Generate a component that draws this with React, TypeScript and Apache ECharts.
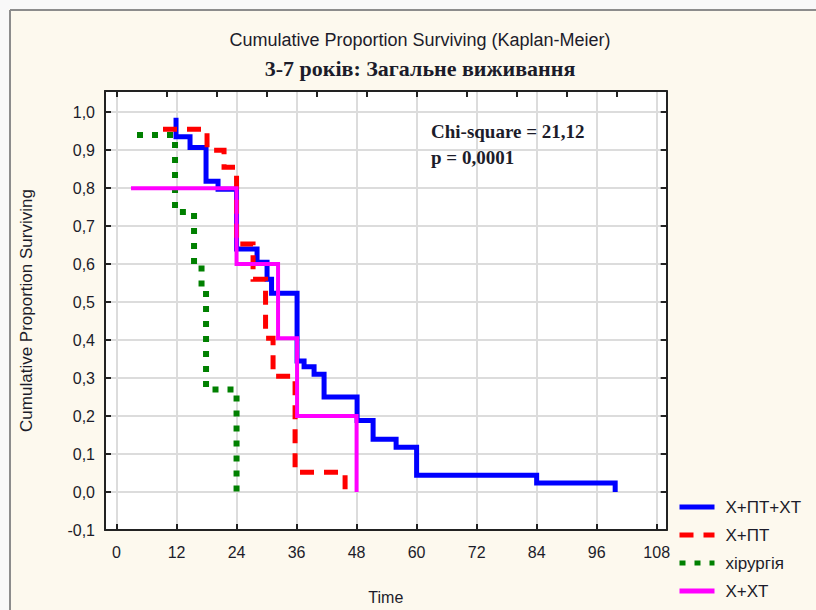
import React, { useEffect, useRef } from 'react';
import * as echarts from 'echarts';

// Axis ticks
const xTicks = [0, 12, 24, 36, 48, 60, 72, 84, 96, 108];
const xTopTicks = [0, 10, 20, 30, 40, 50, 60, 70, 80, 90, 100];
const yTicks = [-0.1, 0, 0.1, 0.2, 0.3, 0.4, 0.5, 0.6, 0.7, 0.8, 0.9, 1.0];

// Group names
const groupNames = ['Х+ПТ+ХТ', 'Х+ПТ', 'хірургія', 'Х+ХТ'];

// Kaplan-Meier steps (time in months, cumulative proportion surviving)
const blueTimes = [11.9, 11.9, 14.7, 17.9, 20.3, 24.0, 28.1, 30.1, 31.0, 36.1, 37.5, 39.5, 41.5, 48.1, 51.3, 55.9, 60.0, 84.0, 99.7];
const blueSurv = [0.985, 0.935, 0.907, 0.818, 0.797, 0.640, 0.605, 0.560, 0.523, 0.345, 0.330, 0.310, 0.250, 0.188, 0.139, 0.118, 0.044, 0.024, 0.0];

const redTimes = [9.3, 18.1, 21.5, 24.0, 27.3, 29.8, 31.3, 35.7, 45.7];
const redSurv = [0.955, 0.900, 0.855, 0.653, 0.560, 0.405, 0.305, 0.052, 0.0];

const greenTimes = [4.1, 11.7, 15.5, 17.0, 17.9, 24.0];
const greenSurv = [0.940, 0.737, 0.600, 0.535, 0.270, 0.0];

const magentaTimes = [2.9, 24.0, 32.3, 36.1, 48.0];
const magentaSurv = [0.800, 0.600, 0.405, 0.200, 0.0];

const chiText = 'Chi-square = 21,12';
const pText = 'p = 0,0001';

const pairs = (t: number[], s: number[]) => t.map((v, i) => [v, s[i]]);
const fmtY = (v: number) => v.toFixed(1).replace('.', ',').replace('-0,0', '0,0');

const SANS = '"Liberation Sans", Arial, sans-serif';
const SERIF = '"Liberation Serif", "Times New Roman", serif';
const INK = '#1c1c2a';

export default function App() {
  const ref = useRef<HTMLDivElement>(null);
  useEffect(() => {
    const chart = echarts.init(ref.current!, null, { renderer: 'svg' });
    const xMin = -2.3, xMax = 110.0, yMin = -0.1, yMax = 1.0557;
    const axisLine = { show: true, onZero: false, lineStyle: { color: '#222', width: 2 } };
    const tickStyle = { color: '#222', width: 2 };
    const lineCommon = {
      type: 'line' as const,
      step: 'end' as const,
      symbol: 'none',
      showSymbol: false,
      silent: true,
      z: 3,
    };
    const option: any = {
      animation: false,
      backgroundColor: '#fdf9ee',
      grid: {
        left: 105, top: 91, right: 149.3, bottom: 610 - 533.3,
        show: true, backgroundColor: '#ffffff', borderWidth: 0,
      },
      xAxis: [
        {
          type: 'value', position: 'bottom', min: xMin, max: xMax, z: 5,
          axisLine,
          axisTick: { show: true, inside: true, length: 6, customValues: xTicks, lineStyle: tickStyle },
          axisLabel: { show: true, customValues: xTicks, margin: 14, fontFamily: SANS, fontSize: 16, color: INK },
          splitLine: { show: false },
          name: 'Time', nameLocation: 'middle', nameGap: 59,
          nameTextStyle: { fontFamily: SANS, fontSize: 16, color: INK },
        },
        {
          type: 'value', position: 'top', min: xMin, max: xMax, z: 5,
          axisLine,
          axisTick: { show: true, inside: true, length: 6, customValues: xTopTicks, lineStyle: tickStyle },
          axisLabel: { show: false },
          splitLine: { show: false },
        },
      ],
      yAxis: [
        {
          type: 'value', position: 'left', min: yMin, max: yMax, z: 5,
          axisLine,
          axisTick: { show: true, inside: true, length: 6, customValues: yTicks, lineStyle: tickStyle },
          axisLabel: { show: true, customValues: yTicks, margin: 10, fontFamily: SANS, fontSize: 16, color: INK, formatter: (v: number) => fmtY(v) },
          splitLine: { show: false },
          name: 'Cumulative Proportion Surviving', nameLocation: 'middle', nameGap: 70, nameRotate: 90,
          nameTextStyle: { fontFamily: SANS, fontSize: 17, color: INK },
        },
        {
          type: 'value', position: 'right', min: yMin, max: yMax, z: 5,
          axisLine,
          axisTick: { show: true, inside: true, length: 6, customValues: yTicks, lineStyle: tickStyle },
          axisLabel: { show: false },
          splitLine: { show: false },
        },
      ],
      legend: {
        show: true,
        orient: 'vertical',
        left: 677, top: 498, padding: 0,
        itemWidth: 35, itemHeight: 14, itemGap: 10,
        selectedMode: false,
        data: groupNames,
        lineStyle: { width: 5 },
        textStyle: { fontFamily: SANS, fontSize: 17, color: INK, lineHeight: 18, padding: [0, 0, 0, 6] },
      },
      series: [
        {
          type: 'line', data: [[xMin, yMin]], silent: true, z: 1,
          symbol: 'none', showSymbol: false,
          lineStyle: { opacity: 0 },
          markLine: {
            silent: true, symbol: 'none', z: 1, animation: false,
            label: { show: false },
            lineStyle: { color: '#dcdcdc', width: 2, type: 'solid' },
            emphasis: { disabled: true },
            data: [
              ...xTicks.map((v) => ({ xAxis: v })),
              ...yTicks.filter((v) => v > -0.05).map((v) => ({ yAxis: v })),
            ],
          },
        },
        {
          ...lineCommon, name: groupNames[0], color: '#0000ff',
          itemStyle: { color: '#0000ff', opacity: 0 },
          data: pairs(blueTimes, blueSurv),
          lineStyle: { color: '#0000ff', width: 5, type: 'solid', cap: 'butt', join: 'miter' },
        },
        {
          ...lineCommon, name: groupNames[1], color: '#ff0000',
          itemStyle: { color: '#ff0000', opacity: 0 },
          data: pairs(redTimes, redSurv),
          lineStyle: { color: '#ff0000', width: 5, type: [14, 10], cap: 'butt', join: 'miter' },
        },
        {
          ...lineCommon, name: groupNames[2], color: '#008000',
          itemStyle: { color: '#008000', opacity: 0 },
          data: pairs(greenTimes, greenSurv),
          lineStyle: { color: '#008000', width: 6, type: [6, 9], cap: 'butt', join: 'miter' },
        },
        {
          ...lineCommon, name: groupNames[3], color: '#ff00ff',
          itemStyle: { color: '#ff00ff', opacity: 0 },
          data: pairs(magentaTimes, magentaSurv),
          lineStyle: { color: '#ff00ff', width: 4, type: 'solid', cap: 'butt', join: 'miter' },
        },
      ],
      graphic: [
        { type: 'rect', silent: true, z: 0, shape: { x: 0, y: 0, width: 816, height: 9 }, style: { fill: '#f8f8f8' } },
        { type: 'rect', silent: true, z: 0, shape: { x: 0, y: 0, width: 9, height: 610 }, style: { fill: '#f8f8f8' } },
        { type: 'line', silent: true, z: 1, shape: { x1: 10, y1: 10, x2: 816, y2: 10 }, style: { stroke: '#8c8c8c', lineWidth: 2 } },
        { type: 'line', silent: true, z: 1, shape: { x1: 10, y1: 10, x2: 10, y2: 610 }, style: { stroke: '#8c8c8c', lineWidth: 2 } },
        {
          type: 'text', silent: true, x: 420, y: 40,
          style: { text: 'Cumulative Proportion Surviving (Kaplan-Meier)', fill: INK, font: `18px ${SANS}`, textAlign: 'center', textVerticalAlign: 'middle', verticalAlign: 'middle' },
        },
        {
          type: 'text', silent: true, x: 420, y: 68,
          style: { text: '3-7 років: Загальне виживання', fill: INK, font: `bold 22px ${SERIF}`, textAlign: 'center', textVerticalAlign: 'middle', verticalAlign: 'middle' },
        },
        {
          type: 'text', silent: true, x: 431, y: 131, z: 10,
          style: { text: chiText, fill: INK, font: `bold 19px ${SERIF}`, textAlign: 'left', textVerticalAlign: 'middle', verticalAlign: 'middle' },
        },
        {
          type: 'text', silent: true, x: 431, y: 157, z: 10,
          style: { text: pText, fill: INK, font: `bold 19px ${SERIF}`, textAlign: 'left', textVerticalAlign: 'middle', verticalAlign: 'middle' },
        },
      ],
    };
    chart.setOption(option);
    return () => chart.dispose();
  }, []);
  return <div ref={ref} style={{ position: 'absolute', left: 0, top: 0, width: 816, height: 610 }} />;
}
